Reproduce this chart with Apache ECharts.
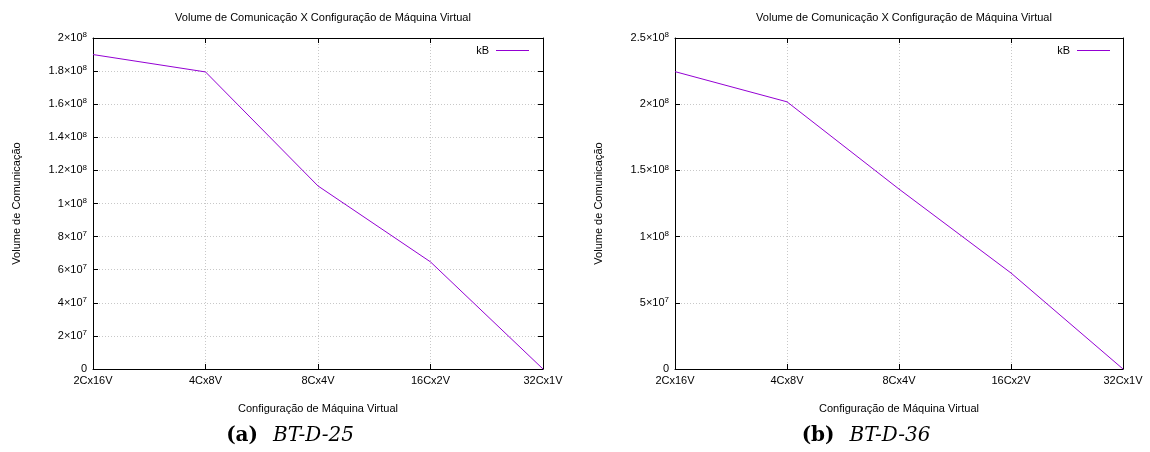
<!DOCTYPE html>
<html><head><meta charset="utf-8">
<script src="https://cdn.jsdelivr.net/npm/echarts@6/dist/echarts.min.js"></script>
<style>html,body{margin:0;padding:0;background:#fff}#c{width:1150px;height:452px}</style>
</head><body><div id="c"></div>
<script>
const categories = ['2Cx16V','4Cx8V','8Cx4V','16Cx2V','32Cx1V'];
const valuesA = [1.90e8, 1.795e8, 1.106e8, 6.47e7, 0];
const valuesB = [2.246e8, 2.018e8, 1.359e8, 7.25e7, 0];
// tick labels: [mantissa, exponent]
const yTicksA = [['0',''],['2×10','7'],['4×10','7'],['6×10','7'],['8×10','7'],['1×10','8'],['1.2×10','8'],['1.4×10','8'],['1.6×10','8'],['1.8×10','8'],['2×10','8']];
const yTicksB = [['0',''],['5×10','7'],['1×10','8'],['1.5×10','8'],['2×10','8'],['2.5×10','8']];
const chartTitle = 'Volume de Comunicação X Configuração de Máquina Virtual';
const xName = 'Configuração de Máquina Virtual';
const yName = 'Volume de Comunicação';
const seriesName = 'kB';
const captions = [['(a)', 'BT-D-25'], ['(b)', 'BT-D-36']];

const FONT = 'Liberation Sans';
const SERIF = 'DejaVu Serif';
const LINE = '#9400D3';
const rich = {
  n: {fontFamily: FONT, fontSize: 11, color: '#000'},
  s: {fontFamily: FONT, fontSize: 8, color: '#000', padding: [0,0,6,0]}
};
function fmt(ticks, interval) {
  return function (v) {
    const t = ticks[Math.round(v / interval)];
    if (!t) return '';
    return t[1] ? '{n|' + t[0] + '}{s|' + t[1] + '}' : '{n|' + t[0] + '}';
  };
}
const grids = [
  {left: 93, right: 607, top: 38, bottom: 83},
  {left: 675, right: 27, top: 38, bottom: 83}
];
function makeX(gi, pos) {
  const main = pos === 'bottom';
  return {
    type: 'category', gridIndex: gi, position: pos, data: categories, boundaryGap: false,
    axisLine: {show: true, onZero: false, lineStyle: {color: '#000', width: 1}},
    axisTick: {show: true, inside: true, length: 5, lineStyle: {color: '#000'}},
    axisLabel: {show: main, color: '#000', fontFamily: FONT, fontSize: 11, margin: 6},
    splitLine: {show: main, lineStyle: {color: '#c8c8c8', type: [1, 2], width: 1}},
    name: main ? xName : '', nameLocation: 'middle', nameGap: 34,
    nameTextStyle: {color: '#000', fontFamily: FONT, fontSize: 11}
  };
}
function makeY(gi, pos, max, interval, ticks) {
  const main = pos === 'left';
  return {
    type: 'value', gridIndex: gi, position: pos, min: 0, max: max, interval: interval,
    axisLine: {show: true, lineStyle: {color: '#000', width: 1}},
    axisTick: {show: true, inside: true, length: 5, lineStyle: {color: '#000'}},
    axisLabel: {show: main, formatter: fmt(ticks, interval), rich: rich, margin: 6},
    splitLine: {show: main, lineStyle: {color: '#c8c8c8', type: [1, 2], width: 1}},
    name: main ? yName : '', nameLocation: 'middle', nameGap: 71, nameRotate: 90,
    nameTextStyle: {color: '#000', fontFamily: FONT, fontSize: 11}
  };
}
const capRich = {
  b: {fontFamily: SERIF, fontSize: 20, fontWeight: 'bold', color: '#000'},
  i: {fontFamily: SERIF, fontSize: 20, fontWeight: 'normal', fontStyle: 'italic', color: '#000'}
};
const legendBase = {data: [seriesName], top: 40, align: 'right', icon: 'rect', itemWidth: 33, itemHeight: 1, itemGap: 0,
  textStyle: {fontFamily: FONT, fontSize: 11, color: '#000', padding: [0, 2, 0, 0]}, selectedMode: false};
const option = {
  animation: false,
  backgroundColor: '#fff',
  title: [
    {text: chartTitle, left: 318, top: 7, textAlign: 'center', textStyle: {fontFamily: FONT, fontSize: 11, fontWeight: 'normal', color: '#000'}},
    {text: chartTitle, left: 899, top: 7, textAlign: 'center', textStyle: {fontFamily: FONT, fontSize: 11, fontWeight: 'normal', color: '#000'}},
    {text: '{b|' + captions[0][0] + '}   {i|' + captions[0][1] + '}', left: 285, top: 421, textAlign: 'center', textStyle: {rich: capRich}},
    {text: '{b|' + captions[1][0] + '}   {i|' + captions[1][1] + '}', left: 861, top: 421, textAlign: 'center', textStyle: {rich: capRich}}
  ],
  legend: [
    Object.assign({}, legendBase, {right: 616}),
    Object.assign({}, legendBase, {right: 35})
  ],
  grid: grids,
  xAxis: [makeX(0, 'bottom'), makeX(0, 'top'), makeX(1, 'bottom'), makeX(1, 'top')],
  yAxis: [makeY(0, 'left', 2e8, 2e7, yTicksA), makeY(0, 'right', 2e8, 2e7, yTicksA),
          makeY(1, 'left', 2.5e8, 5e7, yTicksB), makeY(1, 'right', 2.5e8, 5e7, yTicksB)],
  series: [
    {name: seriesName, type: 'line', xAxisIndex: 0, yAxisIndex: 0, data: valuesA, symbol: 'none',
     lineStyle: {color: LINE, width: 1}, itemStyle: {color: LINE}},
    {name: seriesName, type: 'line', xAxisIndex: 2, yAxisIndex: 2, data: valuesB, symbol: 'none',
     lineStyle: {color: LINE, width: 1}, itemStyle: {color: LINE}}
  ]
};
echarts.init(document.getElementById('c'), null, {renderer: 'canvas'}).setOption(option);
</script></body></html>
